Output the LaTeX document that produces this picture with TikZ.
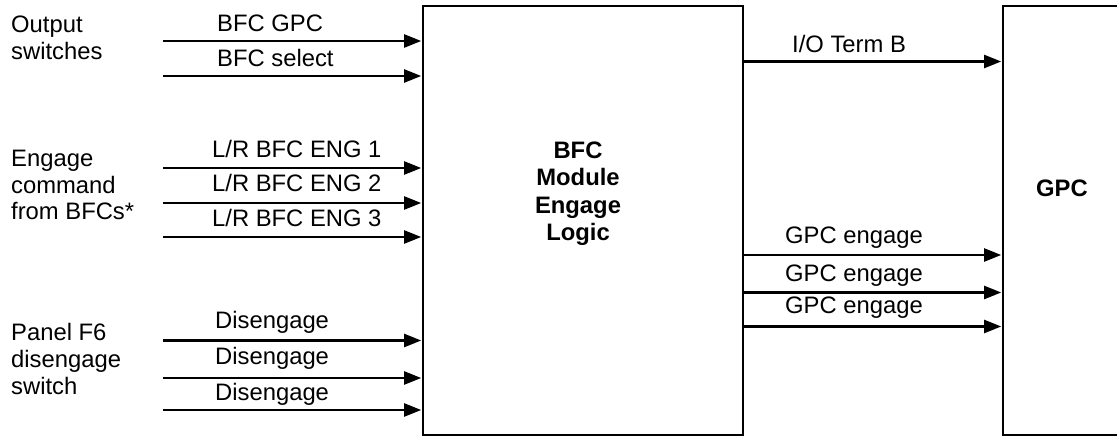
\documentclass[tikz,border=0pt]{standalone}
\usepackage{fontspec}
\setmainfont{Liberation Sans}
\usetikzlibrary{arrows.meta}

\begin{document}
\begin{tikzpicture}[x=1pt, y=-1pt,
    every node/.style={font=\fontsize{23.8}{26.7}\selectfont},
    block/.style={draw, line width=1.6pt, inner sep=0pt},
    sig/.style={-{Triangle[length=17pt,width=13pt]}, line width=2.2pt, shorten >=1pt},
    lbl/.style={anchor=base west, inner sep=0pt},
    grp/.style={anchor=north west, inner sep=0pt, align=left}]
    \useasboundingbox (0,0) rectangle (1117,438);
    \clip (0,0) rectangle (1117,438);
    % Bloecke:
    \node[block, minimum width=320pt, minimum height=429pt] (bfc) at (583,220.5) {}; % Logik
    \node[block, minimum width=118pt, minimum height=429pt] (gpc) at (1062,220.5) {}; % Rechner
    \node[inner sep=0pt, anchor=north, align=center, font=\fontsize{23.8}{27.5}\selectfont\bfseries] (bfctxt) at (578,141.5) {BFC\\Module\\Engage\\Logic};
    \node[inner sep=0pt, font=\fontsize{23.8}{27}\selectfont\bfseries] (gpctxt) at (1062,188) {GPC};
    % Gruppen links:
    \node[grp] (outsw) at (11,16) {Output\\switches};
    \node[grp] (engcmd) at (11,150) {Engage\\command\\from BFCs*};
    \node[grp] (panel) at (11,323.5) {Panel F6\\disengage\\switch};
    % Eingaenge:
    \coordinate (in1) at (163,41);
    \coordinate (in2) at (163,76);
    \coordinate (in3) at (163,168);
    \coordinate (in4) at (163,203);
    \coordinate (in5) at (163,237);
    \coordinate (in6) at (163,340.5);
    \coordinate (in7) at (163,378);
    \coordinate (in8) at (163,410);
    \draw[sig] (in1) -- (in1 -| bfc.west); % BFC GPC
    \draw[sig] (in2) -- (in2 -| bfc.west); % BFC select
    \draw[sig] (in3) -- (in3 -| bfc.west); % ENG 1
    \draw[sig] (in4) -- (in4 -| bfc.west); % ENG 2
    \draw[sig] (in5) -- (in5 -| bfc.west); % ENG 3
    \draw[sig] (in6) -- (in6 -| bfc.west); % Disengage
    \draw[sig] (in7) -- (in7 -| bfc.west);
    \draw[sig] (in8) -- (in8 -| bfc.west);
    \node[lbl] (l1) at (217,31.5) {BFC GPC};
    \node[lbl] (l2) at (217,66.5) {BFC select};
    \node[lbl] (l3) at (212,157.5) {L/R BFC ENG 1};
    \node[lbl] (l4) at (212,192) {L/R BFC ENG 2};
    \node[lbl] (l5) at (212,226.5) {L/R BFC ENG 3};
    \node[lbl] (l6) at (215,328.5) {Disengage};
    \node[lbl] (l7) at (215,365) {Disengage};
    \node[lbl] (l8) at (215,400) {Disengage};
    % Ausgaenge:
    \coordinate (out1) at (bfc.east |- 0,61.5);
    \coordinate (out2) at (bfc.east |- 0,255);
    \coordinate (out3) at (bfc.east |- 0,292.5);
    \coordinate (out4) at (bfc.east |- 0,326.5);
    \draw[sig] (out1) -- (out1 -| gpc.west); % I/O Term B
    \draw[sig] (out2) -- (out2 -| gpc.west); % GPC engage
    \draw[sig] (out3) -- (out3 -| gpc.west);
    \draw[sig] (out4) -- (out4 -| gpc.west);
    \node[lbl] (r1) at (792,52.5) {I/O Term B};
    \node[lbl] (r2) at (785,244) {GPC engage};
    \node[lbl] (r3) at (785,281.5) {GPC engage};
    \node[lbl] (r4) at (785,314) {GPC engage};
\end{tikzpicture}
\end{document}
